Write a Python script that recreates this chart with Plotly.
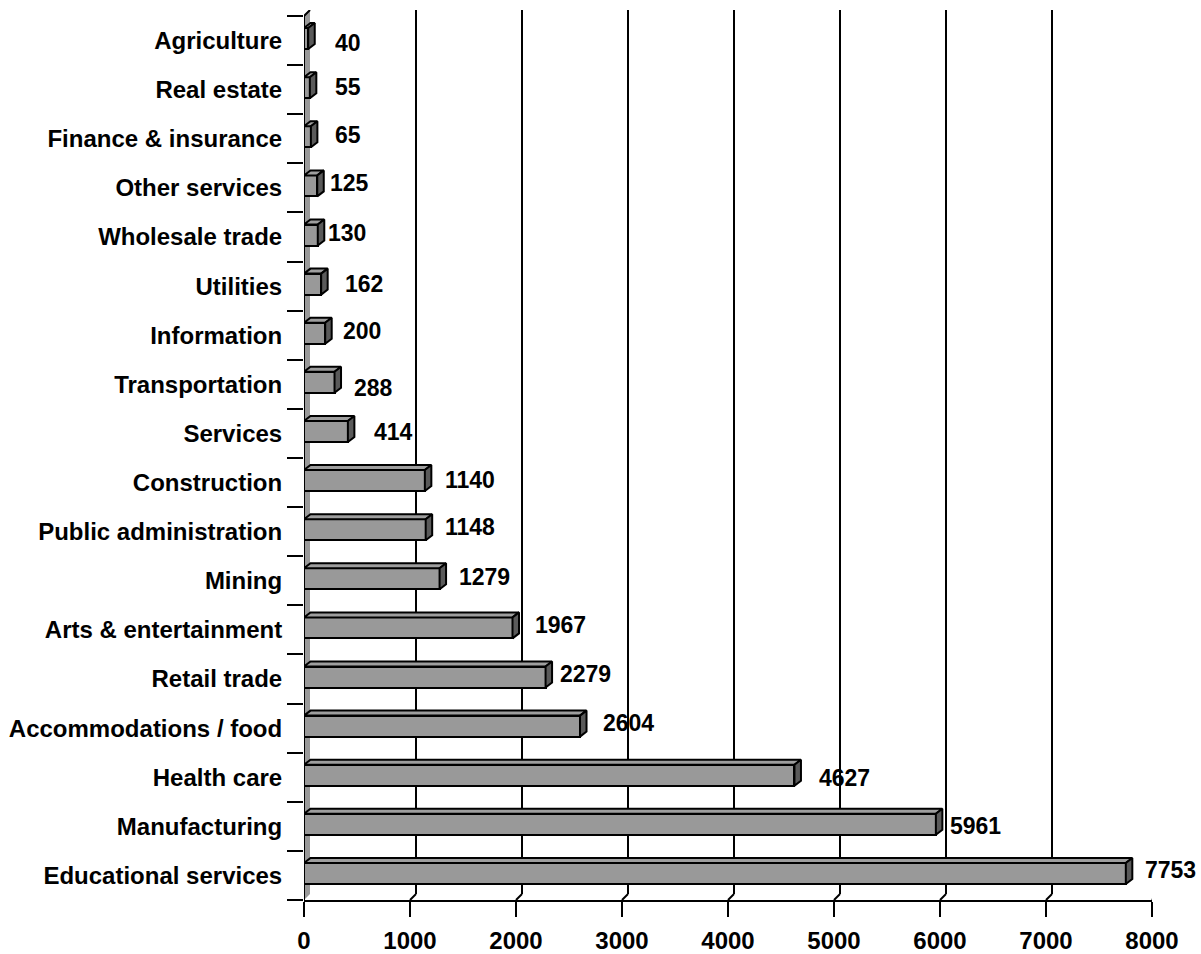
import plotly.graph_objects as go

# Employment by industry sector
sectors = [
    "Agriculture", "Real estate", "Finance & insurance", "Other services",
    "Wholesale trade", "Utilities", "Information", "Transportation", "Services",
    "Construction", "Public administration", "Mining", "Arts & entertainment",
    "Retail trade", "Accommodations / food", "Health care", "Manufacturing",
    "Educational services",
]
employees = [40, 55, 65, 125, 130, 162, 200, 288, 414, 1140, 1148, 1279,
             1967, 2279, 2604, 4627, 5961, 7753]
x_ticks = [0, 1000, 2000, 3000, 4000, 5000, 6000, 7000, 8000]

# label nudges in pixels (right, up)
label_dx = [25, 23, 22, 11, 8, 22, 16, 17, 24, 18, 17, 17, 20, 12, 21, 23, 12, 17]
label_dy = [-2, 3, 4, 5, 4, 2, 4, -4, 1, 3, 5, 4, 5, 5, 5, -1, 0, 5]

# ---- geometry -------------------------------------------------------------
W, H = 1201, 954
ML, MR, MT, MB = 304, 49, 10, 54
WALL_PX = 6            # depth of the back wall / floor, pixels
BAR_DX_PX, BAR_DY_PX = 6.5, 5.0
BAR_H_PX = 21
BAR_LIFT_PX = 2

n = len(sectors)
xmax = x_ticks[-1]
ux = xmax / (W - ML - MR)                  # data units per pixel (x)
front_px = H - MT - MB - WALL_PX
uy = n / front_px                          # data units per pixel (y)
ytop = n - 0.5 + WALL_PX * uy

wdx, wdy = WALL_PX * ux, WALL_PX * uy
bdx, bdy = BAR_DX_PX * ux, BAR_DY_PX * uy
bar_h = BAR_H_PX * uy
bar_off = -bar_h / 2 + BAR_LIFT_PX * uy

ypos = [n - 1 - i for i in range(n)]       # first sector at the top

FONT = "Liberation Sans, Arial, sans-serif"
FRONT, TOP, SIDE, WALL = "#999999", "#9e9e9e", "#5a5a5a", "#999999"
EDGE = 2

fig = go.Figure()

# front faces of the bars
fig.add_trace(go.Bar(
    y=ypos, x=employees, orientation="h", width=bar_h, offset=bar_off,
    marker=dict(color=FRONT, line=dict(color="black", width=EDGE)),
    hoverinfo="skip", showlegend=False,
))

# top and end faces, built from each bar's value
top_x, top_y, side_x, side_y = [], [], [], []
for v, c in zip(employees, ypos):
    yb = c + bar_off
    yt = yb + bar_h
    top_x += [0, v, v + bdx, bdx, 0, None]
    top_y += [yt, yt, yt + bdy, yt + bdy, yt, None]
    side_x += [v, v, v + bdx, v + bdx, v, None]
    side_y += [yb, yt, yt + bdy, yb + bdy, yb, None]

fig.add_trace(go.Scatter(
    x=top_x, y=top_y, mode="lines", fill="toself", fillcolor=TOP,
    line=dict(color="black", width=EDGE), hoverinfo="skip", showlegend=False,
))
fig.add_trace(go.Scatter(
    x=side_x, y=side_y, mode="lines", fill="toself", fillcolor=SIDE,
    line=dict(color="black", width=EDGE), hoverinfo="skip", showlegend=False,
))

# back wall: gridlines, floor edges and the left side wall
shapes = []
shapes.append(dict(
    type="path", xref="x", yref="y", layer="below",
    path=f"M 0,{-0.5} L 0,{n - 0.5} L {wdx},{n - 0.5 + wdy} L {wdx},{-0.5 + wdy} Z",
    fillcolor=WALL, line=dict(width=0),
))
shapes.append(dict(
    type="path", xref="x", yref="y", layer="below",
    path=f"M 0,{-0.5} L 0,{n - 0.5} L {wdx},{n - 0.5 + wdy}",
    line=dict(color="black", width=2),
))
for k in x_ticks[1:-1]:
    shapes.append(dict(
        type="line", xref="x", yref="y", layer="below",
        x0=k + wdx, x1=k + wdx, y0=-0.5 + wdy, y1=ytop,
        line=dict(color="black", width=2),
    ))
for k in x_ticks[1:]:
    shapes.append(dict(
        type="line", xref="x", yref="y", layer="below",
        x0=k, x1=k + wdx, y0=-0.5, y1=-0.5 + wdy,
        line=dict(color="black", width=2),
    ))

# value labels
annotations = []
for v, c, sx, sy in zip(employees, ypos, label_dx, label_dy):
    annotations.append(dict(
        x=v, y=c, xref="x", yref="y", text=str(v), showarrow=False,
        xanchor="left", yanchor="middle", xshift=sx, yshift=sy,
        font=dict(family=FONT, size=23, color="black", weight="bold"),
    ))

fig.update_layout(
    width=W, height=H,
    margin=dict(l=ML, r=MR, t=MT, b=MB, pad=0),
    paper_bgcolor="white", plot_bgcolor="white",
    bargap=0, showlegend=False,
    shapes=shapes, annotations=annotations,
    xaxis=dict(
        range=[0, xmax], tickvals=x_ticks, ticktext=[str(t) for t in x_ticks],
        showgrid=False, zeroline=False, automargin=False,
        showline=True, linecolor="black", linewidth=2,
        ticks="outside", ticklen=15, tickwidth=2, tickcolor="black",
        ticklabelstandoff=3,
        tickfont=dict(family=FONT, size=24, color="black", weight="bold"),
        fixedrange=True,
    ),
    yaxis=dict(
        range=[-0.5, ytop], tickvals=ypos, ticktext=sectors,
        showgrid=False, zeroline=False, showline=False, automargin=False,
        ticks="outside", ticklen=16, tickwidth=2, tickcolor="rgba(0,0,0,0)",
        minor=dict(ticks="outside", tick0=-0.5, dtick=1, ticklen=16,
                   tickwidth=2, tickcolor="black", showgrid=False),
        tickfont=dict(family=FONT, size=24, color="black", weight="bold"),
        fixedrange=True,
    ),
)

fig.write_html("out.html")
